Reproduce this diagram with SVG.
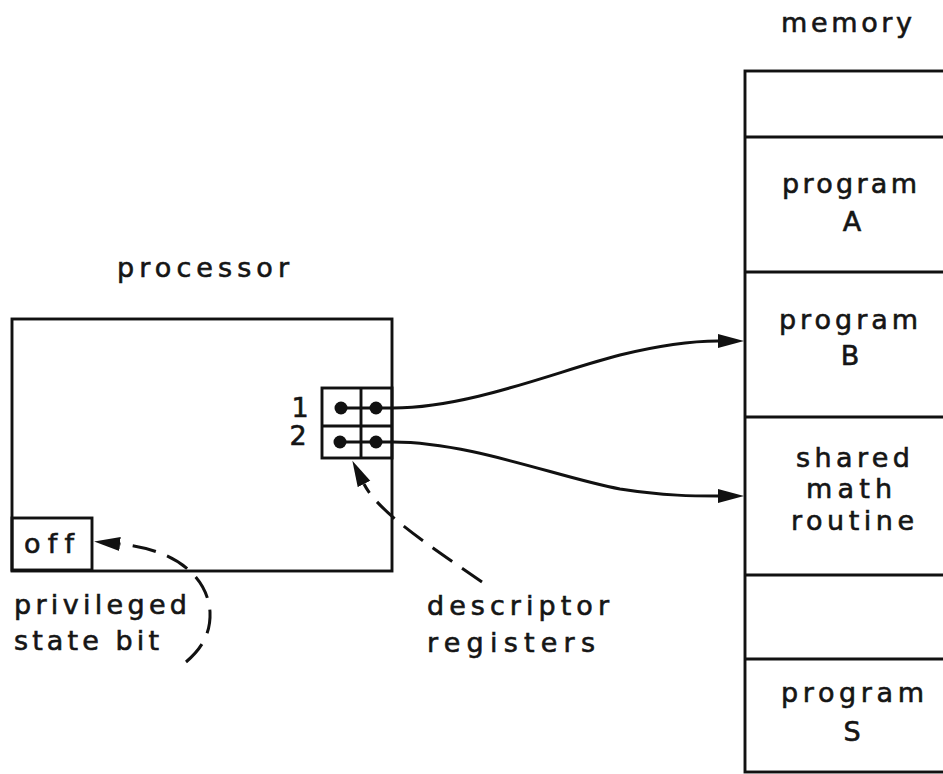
<svg xmlns="http://www.w3.org/2000/svg" width="943" height="774" viewBox="0 0 943 774">
<style>
.ln{fill:none;stroke:#111;stroke-width:2.9}
.cn{fill:none;stroke:#111;stroke-width:3}
.ds{fill:none;stroke:#111;stroke-width:3;stroke-dasharray:24 12}
.dot{fill:#111}
text{font-family:"DejaVu Sans","Liberation Sans",sans-serif;font-size:27px;fill:#151515;stroke:#151515;stroke-width:0.6;font-variant-ligatures:none;font-feature-settings:"liga" 0,"clig" 0}
.mid{text-anchor:middle}
</style>
<defs>
<marker id="ah" markerUnits="userSpaceOnUse" markerWidth="28" markerHeight="16" viewBox="0 -8 28 16" refX="0" refY="0" orient="auto">
<path d="M0,-7 L26,0 L0,7 z" fill="#111"/>
</marker>
</defs>
<rect width="943" height="774" fill="#fff"/>

<g id="memory">
<text x="781" y="32" textLength="131" lengthAdjust="spacing">memory</text>
<rect class="ln" x="745" y="71" width="300" height="701"/>
<line class="ln" x1="745" y1="137" x2="943" y2="137"/>
<line class="ln" x1="745" y1="272" x2="943" y2="272"/>
<line class="ln" x1="745" y1="417" x2="943" y2="417"/>
<line class="ln" x1="745" y1="575" x2="943" y2="575"/>
<line class="ln" x1="745" y1="659" x2="943" y2="659"/>
</g>
<g id="programA">
<text x="782" y="193" textLength="135" lengthAdjust="spacing">program</text>
<text class="mid" x="852" y="231">A</text>
</g>
<g id="programB">
<text x="779" y="329" textLength="139" lengthAdjust="spacing">program</text>
<text class="mid" x="850" y="365">B</text>
</g>
<g id="shared">
<text x="796" y="467" textLength="114" lengthAdjust="spacing">shared</text>
<text x="806" y="498" textLength="86" lengthAdjust="spacing">math</text>
<text x="791" y="530" textLength="123" lengthAdjust="spacing">routine</text>
</g>
<g id="programS">
<text x="781" y="702" textLength="143" lengthAdjust="spacing">program</text>
<text class="mid" x="852" y="741">S</text>
</g>

<g id="processor">
<text x="117" y="277" textLength="172" lengthAdjust="spacing">processor</text>
<rect class="ln" x="12" y="319" width="380" height="252"/>
</g>
<g id="registers">
<rect class="ln" x="322" y="388" width="70" height="70"/>
<line class="ln" x1="361" y1="388" x2="361" y2="458"/>
<line class="ln" x1="322" y1="426" x2="392" y2="426"/>
<line class="ln" x1="341" y1="408" x2="393" y2="408"/>
<line class="ln" x1="340" y1="442" x2="393" y2="442"/>
<circle class="dot" cx="341" cy="408" r="6.5"/>
<circle class="dot" cx="376" cy="408" r="6.5"/>
<circle class="dot" cx="340" cy="442" r="6.5"/>
<circle class="dot" cx="376" cy="442" r="6.5"/>
<text class="mid" x="300" y="417">1</text>
<text class="mid" x="298" y="445">2</text>
</g>
<g id="offbit">
<rect class="ln" x="12" y="518" width="80" height="52"/>
<text x="24" y="553" textLength="50" lengthAdjust="spacing">off</text>
</g>
<g id="label-privileged">
<text x="14" y="614" textLength="173" lengthAdjust="spacing">privileged</text>
<text x="14" y="650" textLength="145" lengthAdjust="spacing">state bit</text>
</g>
<g id="label-descriptor">
<text x="427" y="615" textLength="182" lengthAdjust="spacing">descriptor</text>
<text x="427" y="652" textLength="168" lengthAdjust="spacing">registers</text>
</g>

<g id="connectors">
<path class="cn" d="M393,408 C470,408 560,370 620,355 C665,344 695,341 718,341" marker-end="url(#ah)"/>
<path class="cn" d="M393,442 C470,442 560,478 620,489 C665,496 695,496 718,496" marker-end="url(#ah)"/>
<path class="ds" d="M186,662 C200,650 211,635 210,612 C208,580 180,550 120,544" marker-end="url(#ah)"/>
<path class="ds" d="M482,582 C430,546 378,512 364,484" marker-end="url(#ah)"/>
</g>
</svg>
